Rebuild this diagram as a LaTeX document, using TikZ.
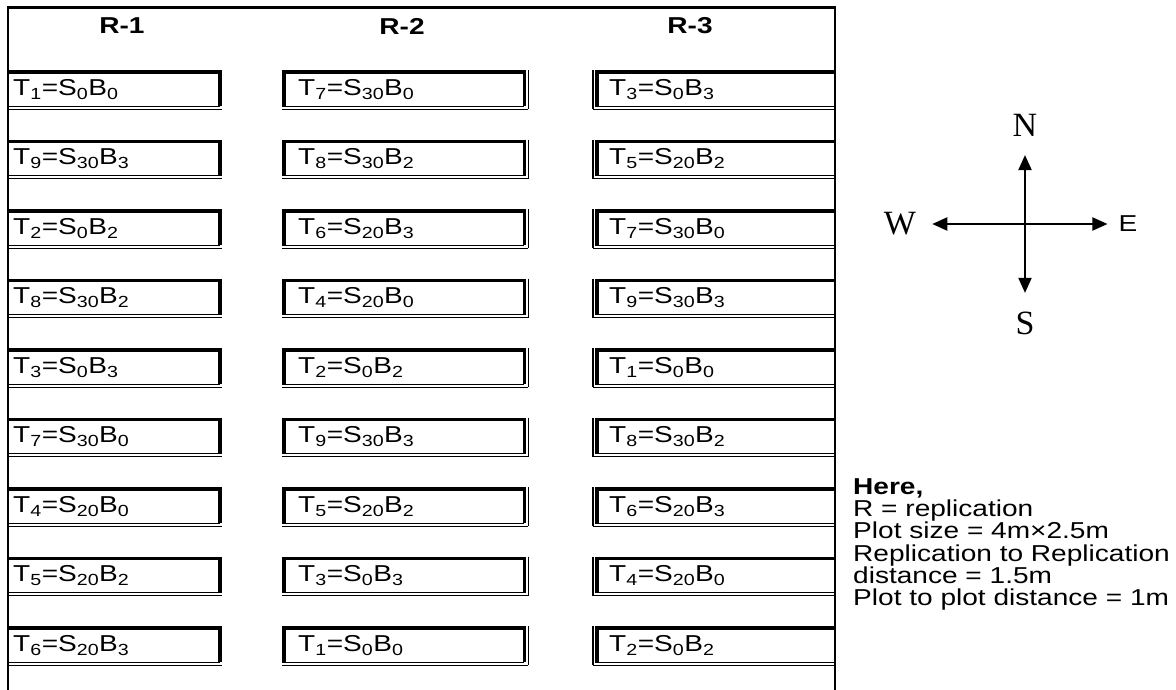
\documentclass[tikz,border=0pt]{standalone}
\usepackage{fontspec}
\setmainfont[FakeStretch=1.22]{Liberation Sans}
\newfontfamily\compassfont{Liberation Serif}
\usetikzlibrary{arrows.meta}
\newcommand\plotlab[3]{T\textsubscript{#1}=S\textsubscript{#2}B\textsubscript{#3}}
\begin{document}
\begin{tikzpicture}[x=1pt,y=-1pt,
  frameln/.style={line width=2.7pt},
  thickln/.style={line width=3.6pt},
  thinln/.style={line width=1.1pt},
  plotbox/.style={anchor=north west, minimum height=34pt, inner ysep=0pt, align=left,
    font=\fontsize{23}{26}\selectfont},
  colA/.style={plotbox, inner xsep=5pt, text width=201.5pt, minimum width=211.5pt},
  colB/.style={plotbox, inner xsep=14pt, text width=212pt, minimum width=240pt},
  colC/.style={plotbox, inner xsep=12pt, text width=214pt, minimum width=238pt},
  hdr/.style={font=\fontsize{23}{26}\selectfont\bfseries, inner sep=0pt},
  legend/.style={font=\fontsize{23}{26}\selectfont, inner sep=0pt, anchor=base west},
  cmp/.style={font=\fontsize{34}{40}\selectfont\compassfont, inner sep=0pt},
  cmpE/.style={font=\fontsize{23}{26}\selectfont, inner sep=0pt},
  cmparrow/.style={line width=2pt, {Triangle[length=15pt,width=13pt]}-{Triangle[length=15pt,width=13pt]}}
]
\useasboundingbox (0,0) rectangle (1176,690);
% outer frame
\draw[frameln] (8,690) -- (8,7.5) -- (835,7.5) -- (835,690);
% headers
\node[hdr] (h1) at (122,26) {R-1};
\node[hdr] (h2) at (402,26) {R-2};
\node[hdr] (h3) at (690,26) {R-3};
% column R-1
\foreach \ta/\sa/\ba [count=\i from 0] in {1/0/0, 9/30/3, 2/0/2, 8/30/2, 3/0/3, 7/30/0, 4/20/0, 5/20/2, 6/20/3}{
  \node[colA] (a\i) at (8,{72+69.5*\i}) {\plotlab{\ta}{\sa}{\ba}};
  \draw[thickln] (a\i.north west) -- (a\i.north east) -- (a\i.south east);
  \draw[thinln] (a\i.south west) -- (a\i.south east);
  \draw[thinln] ([yshift=-3pt]a\i.south west) -- ([yshift=-3pt,xshift=1.8pt]a\i.south east);
}
% column R-2
\foreach \ta/\sa/\ba [count=\i from 0] in {7/30/0, 8/30/2, 6/20/3, 4/20/0, 2/0/2, 9/30/3, 5/20/2, 3/0/3, 1/0/0}{
  \node[colB] (b\i) at (284,{72+69.5*\i}) {\plotlab{\ta}{\sa}{\ba}};
  \draw[thickln] (b\i.south west) -- (b\i.north west) -- (b\i.north east) -- (b\i.south east);
  \draw[thinln] ([xshift=4pt,yshift=1.8pt]b\i.north east) -- ([xshift=4pt,yshift=-3pt]b\i.south east);
  \draw[thinln] ([xshift=-1.8pt]b\i.south west) -- (b\i.south east);
  \draw[thinln] ([xshift=-1.8pt,yshift=-3pt]b\i.south west) -- ([xshift=4pt,yshift=-3pt]b\i.south east);
}
% column R-3
\foreach \ta/\sa/\ba [count=\i from 0] in {3/0/3, 5/20/2, 7/30/0, 9/30/3, 1/0/0, 8/30/2, 6/20/3, 4/20/0, 2/0/2}{
  \node[colC] (c\i) at (597,{72+69.5*\i}) {\plotlab{\ta}{\sa}{\ba}};
  \draw[thickln] (c\i.south west) -- (c\i.north west) -- (c\i.north east);
  \draw[thinln] ([xshift=-4pt,yshift=1.8pt]c\i.north west) -- ([xshift=-4pt,yshift=-3pt]c\i.south west);
  \draw[thinln] ([xshift=-1.8pt]c\i.south west) -- (c\i.south east);
  \draw[thinln] ([xshift=-4pt,yshift=-3pt]c\i.south west) -- ([yshift=-3pt]c\i.south east);
}
% compass
\node[cmp] (N) at (1025,125) {N};
\node[cmp] (S) at (1025,323) {S};
\node[cmp] (W) at (900,224) {W};
\node[cmpE] (E) at (1128,224) {E};
\draw[cmparrow, shorten <=18.5pt, shorten >=18.7pt] (S.north) -- (N.south);
\draw[cmparrow, shorten <=16pt, shorten >=11pt] (W.east) -- (E.west);
% legend
\node[legend] (l1) at (853,494) {\textbf{Here,}};
\node[legend] (l2) at (853,516) {R = replication};
\node[legend] (l3) at (853,538.5) {Plot size = 4m×2.5m};
\node[legend] (l4) at (853,561) {Replication to Replication};
\node[legend] (l5) at (853,583) {distance = 1.5m};
\node[legend] (l6) at (853,605) {Plot to plot distance = 1m};
\end{tikzpicture}
\end{document}
